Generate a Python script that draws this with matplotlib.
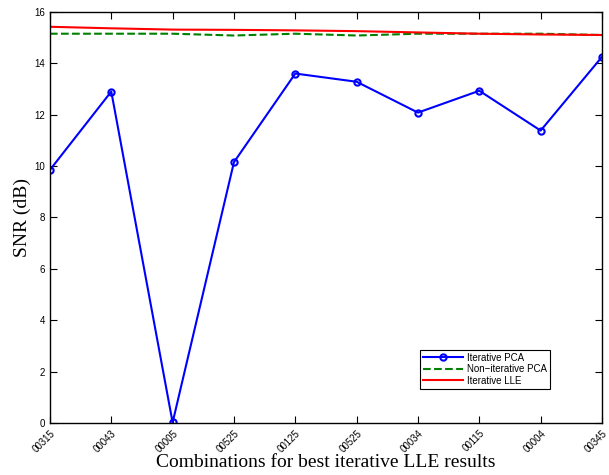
import matplotlib
matplotlib.use('Agg')
import matplotlib.pyplot as plt

labels = ['00315', '00043', '00005', '00525', '00125', '00525', '00034', '00115', '00004', '00345']
iter_pca = [9.85, 12.9, 0.02, 10.15, 13.6, 13.28, 12.08, 12.93, 11.38, 14.25]
noniter_pca = [15.15, 15.15, 15.15, 15.08, 15.15, 15.08, 15.15, 15.15, 15.15, 15.1]
iter_lle = [15.42, 15.36, 15.31, 15.3, 15.28, 15.25, 15.2, 15.15, 15.12, 15.1]

fig = plt.figure(figsize=(6.09, 4.75), dpi=100)
ax = fig.add_axes([0.082, 0.1095, 0.9065, 0.8655])
x = list(range(len(labels)))

ax.plot(x, iter_pca, 'b-', marker='o', markersize=4.5, markerfacecolor='none',
        markeredgewidth=1.5, linewidth=1.5, label='Iterative PCA')
ax.plot(x, noniter_pca, '--', color='#008000', linewidth=1.5, label='Non\u2212iterative PCA')
ax.plot(x, iter_lle, '-', color='red', linewidth=1.5, label='Iterative LLE')

ax.set_xlim(0, len(labels) - 1)
ax.set_ylim(0, 16)
ax.set_yticks(range(0, 17, 2))
ax.set_xticks(x)
ax.set_xticklabels(labels, rotation=45, ha='right', va='top', rotation_mode='anchor',
                   fontsize=7, family='Liberation Sans')
for t in ax.get_yticklabels():
    t.set_fontsize(7)
    t.set_family('Liberation Sans')
ax.tick_params(direction='in', top=True, right=True, length=5, width=0.8)
for s in ax.spines.values():
    s.set_linewidth(1.0)

ax.set_xlabel('Combinations for best iterative LLE results', family='Liberation Serif', fontsize=14, labelpad=0)
ax.set_ylabel('SNR (dB)', family='Liberation Serif', fontsize=14, labelpad=2)

leg = ax.legend(loc='lower right', bbox_to_anchor=(0.915, 0.072), prop={'family': 'Liberation Sans', 'size': 7},
                fancybox=False, edgecolor='black', framealpha=1, borderpad=0.3,
                labelspacing=0.15, handlelength=4.2, handletextpad=0.4)
leg.get_frame().set_linewidth(0.8)

fig.savefig('out.png', dpi=100)
